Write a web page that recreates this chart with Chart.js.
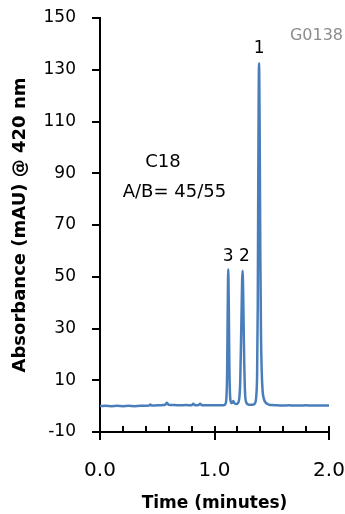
<!DOCTYPE html>
<html>
<head>
<meta charset="utf-8">
<script src="https://cdn.jsdelivr.net/npm/chart.js@4"></script>
<style>
  html, body { margin: 0; padding: 0; background: #fff; }
  #wrap { width: 345px; height: 514px; }
</style>
</head>
<body>
<div id="wrap"><canvas id="chromChart" width="345" height="514"></canvas></div>
<script>
// chromatogram trace
const timeMin = [
  0.00, 0.05, 0.10, 0.15, 0.20, 0.25, 0.30, 0.35, 0.40, 0.43, 0.44, 0.45,
  0.50, 0.55, 0.57, 0.585, 0.60, 0.65, 0.70, 0.75, 0.80, 0.815, 0.83, 0.86,
  0.875, 0.89, 0.95, 1.00, 1.05, 1.08, 1.095, 1.105, 1.11, 1.115, 1.12, 1.125,
  1.13, 1.135, 1.14, 1.15, 1.16, 1.165, 1.17, 1.18, 1.19, 1.20, 1.215, 1.225,
  1.235, 1.245, 1.25, 1.255, 1.26, 1.265, 1.27, 1.28, 1.29, 1.30, 1.32, 1.34,
  1.355, 1.365, 1.372, 1.378, 1.383, 1.389, 1.394, 1.40, 1.406, 1.412, 1.42, 1.43,
  1.445, 1.46, 1.48, 1.50, 1.55, 1.60, 1.65, 1.70, 1.75, 1.80, 1.85, 1.90,
  1.95, 2.00
];
const absorbance = [
  0.0, 0.1, 0.0, 0.1, 0.0, 0.1, 0.0, 0.1, 0.1, 0.3, 0.6, 0.2,
  0.3, 0.4, 0.6, 1.3, 0.5, 0.4, 0.3, 0.4, 0.3, 0.9, 0.3, 0.4,
  0.9, 0.3, 0.3, 0.3, 0.3, 0.3, 0.8, 4, 12, 35, 52.9, 38,
  15, 5, 2, 1.2, 1.6, 2.0, 1.4, 0.9, 0.8, 1.0, 2.5, 10,
  33, 52.3, 45, 30, 16, 7, 3, 1.2, 0.7, 0.5, 0.5, 0.6,
  1.2, 4, 12, 40, 95, 132.5, 110, 60, 28, 14, 6, 3,
  1.5, 0.9, 0.5, 0.4, 0.3, 0.2, 0.3, 0.2, 0.2, 0.3, 0.2, 0.2,
  0.2, 0.2
];

const yTicks = [-10, 10, 30, 50, 70, 90, 110, 130, 150];
const xMajorTicks = [0, 1, 2];
const xMinorTicks = [0.2, 0.4, 0.6, 0.8, 1.2, 1.4, 1.6, 1.8];

const peakLabels = ['1', '2', '3'];
const peakTimes  = [1.389, 1.262, 1.12];
const peakLabelY = [138.0, 57.7, 57.7];

const FONT = "'DejaVu Sans', sans-serif";

// tick marks like the original (y outward, x minor inward, x major crossing)
const tickMarks = {
  id: 'tickMarks',
  afterDraw(chart) {
    const { ctx, chartArea, scales: { x, y } } = chart;
    ctx.save();
    ctx.strokeStyle = '#000';
    ctx.lineWidth = 2;
    ctx.beginPath();
    yTicks.forEach(v => {
      const py = Math.round(y.getPixelForValue(v));
      ctx.moveTo(chartArea.left - 8, py);
      ctx.lineTo(chartArea.left, py);
    });
    xMajorTicks.forEach(v => {
      const px = Math.round(x.getPixelForValue(v));
      ctx.moveTo(px, chartArea.bottom - 6);
      ctx.lineTo(px, chartArea.bottom + 8);
    });
    xMinorTicks.forEach(v => {
      const px = Math.round(x.getPixelForValue(v));
      ctx.moveTo(px, chartArea.bottom - 6);
      ctx.lineTo(px, chartArea.bottom);
    });
    ctx.stroke();
    ctx.restore();
  }
};

const notes = {
  id: 'notes',
  afterDatasetsDraw(chart) {
    const { ctx, scales: { x, y } } = chart;
    ctx.save();
    ctx.textAlign = 'center';
    ctx.textBaseline = 'middle';
    ctx.fillStyle = '#000';
    ctx.font = `17px ${FONT}`;
    peakLabels.forEach((t, i) => {
      ctx.fillText(t, x.getPixelForValue(peakTimes[i]), y.getPixelForValue(peakLabelY[i]));
    });
    ctx.font = `18px ${FONT}`;
    ctx.fillText('C18', x.getPixelForValue(0.55), y.getPixelForValue(94.3));
    ctx.fillText('A/B= 45/55', x.getPixelForValue(0.65), y.getPixelForValue(82.5));
    ctx.fillStyle = '#8c8c8c';
    ctx.font = `16px ${FONT}`;
    ctx.textAlign = 'right';
    ctx.fillText('G0138', 343, 36);
    ctx.restore();
  }
};

new Chart(document.getElementById('chromChart').getContext('2d'), {
  type: 'line',
  data: {
    datasets: [{
      data: timeMin.map((t, i) => ({ x: t, y: absorbance[i] })),
      borderColor: '#4a7ebb',
      borderWidth: 2.5,
      pointRadius: 0,
      cubicInterpolationMode: 'monotone',
      fill: false
    }]
  },
  options: {
    responsive: false,
    animation: false,
    layout: { padding: { left: 0, right: 16, top: 18, bottom: 0 } },
    plugins: { legend: { display: false }, tooltip: { enabled: false } },
    scales: {
      x: {
        type: 'linear',
        min: 0, max: 2,
        afterBuildTicks: s => { s.ticks = xMajorTicks.map(v => ({ value: v })); },
        afterFit: s => { s.height = 82; s.paddingLeft = 0; s.paddingRight = 0; },
        grid: { display: false, drawTicks: false },
        border: { display: true, color: '#000', width: 2 },
        ticks: { color: '#000', padding: 27, maxRotation: 0, font: { family: FONT, size: 20 },
                 callback: v => Number(v).toFixed(1) },
        title: { display: true, text: 'Time (minutes)', color: '#000',
                 font: { family: FONT, size: 17, weight: 'bold' }, padding: { top: 0, bottom: 0 } }
      },
      y: {
        min: -10, max: 150,
        afterBuildTicks: s => { s.ticks = yTicks.map(v => ({ value: v })); },
        afterFit: s => { s.width = 100; s.paddingTop = 0; s.paddingBottom = 0; },
        grid: { display: false, drawTicks: false },
        border: { display: true, color: '#000', width: 2 },
        ticks: { color: '#000', padding: 24, font: { family: FONT, size: 17 } },
        title: { display: true, text: 'Absorbance (mAU) @ 420 nm', color: '#000',
                 font: { family: FONT, size: 18, weight: 'bold' }, padding: { top: 10, bottom: 0 } }
      }
    }
  },
  plugins: [tickMarks, notes]
});
</script>
</body>
</html>
